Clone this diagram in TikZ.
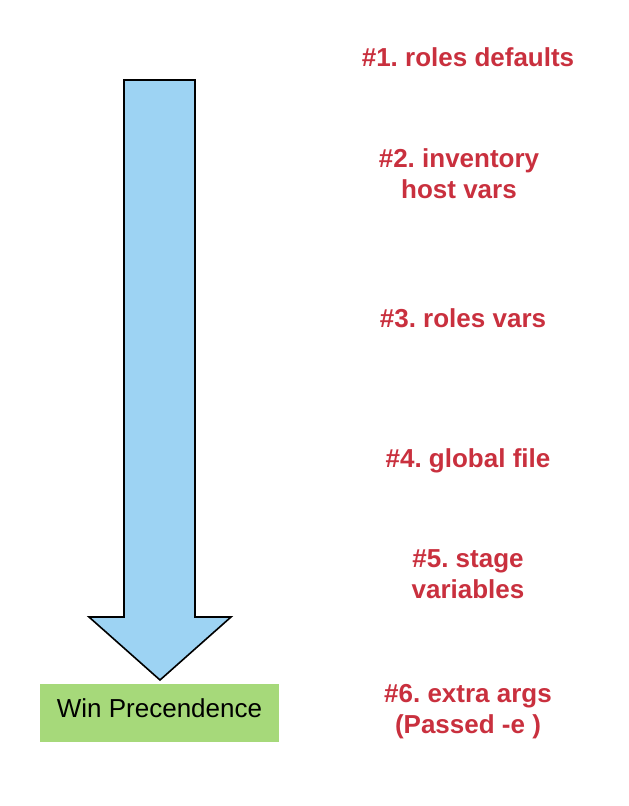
\documentclass[tikz,border=0pt]{standalone}
\usepackage{fontspec}
\setmainfont{Liberation Sans}
\usepackage{xcolor}
\usetikzlibrary{positioning}
\definecolor{arrowblue}{HTML}{9DD3F3}
\definecolor{boxgreen}{HTML}{A6D97A}
\definecolor{labelred}{HTML}{C9303E}
\frenchspacing
\tikzset{
  level/.style={font=\fontsize{26}{31}\selectfont\bfseries, text=labelred, align=center},
  winbox/.style={fill=boxgreen, minimum width=239pt, minimum height=58pt, inner sep=0pt,
    text depth=9pt, font=\fontsize{26}{30}\selectfont}
}
\begin{document}
\begin{tikzpicture}[x=1pt,y=-1pt]
\useasboundingbox (0,0) rectangle (629,806);
% Freccia
\draw[line width=1.6pt, fill=arrowblue, line join=miter]
  (124,80) -- (195,80) -- (195,617) -- (231,617) -- (160,680) -- (89,617) -- (124,617) -- cycle;
% Riquadro
\node[winbox] (win) at (159.5,713) {Win Precendence};
% Livelli
\node[level] (l1) at (468,57) {\#1. roles defaults};
\node[level] (l2) at (459,174) {\#2. inventory\\host vars};
\node[level] (l3) at (463,318) {\#3. roles vars};
\node[level] (l4) at (468,461) {\#4. global file};
\node[level] (l5) at (468,574.5) {\#5. stage\\variables};
\node[level] (l6) at (468,712) {\#6. extra args\\(Passed -e )};
\end{tikzpicture}
\end{document}
